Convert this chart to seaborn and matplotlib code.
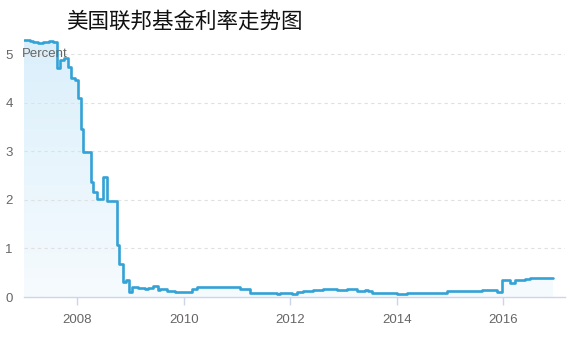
import numpy as np
import pandas as pd
import matplotlib
matplotlib.use("Agg")
import matplotlib.pyplot as plt
import matplotlib.dates as mdates
import seaborn as sns
from matplotlib.colors import LinearSegmentedColormap

title = "美国联邦基金利率走势图"
y_unit = "Percent"
dates = ["2007-01-01", "2007-02-10", "2007-03-03", "2007-04-05", "2007-05-10", "2007-06-20",
         "2007-07-17", "2007-08-12", "2007-09-04", "2007-10-01", "2007-10-29", "2007-11-18",
         "2007-12-16", "2008-01-07", "2008-01-26", "2008-02-11", "2008-04-02", "2008-04-20",
         "2008-05-13", "2008-06-24", "2008-07-21", "2008-09-28", "2008-10-16", "2008-11-12",
         "2008-12-01", "2008-12-23", "2009-01-13", "2009-02-21", "2009-04-10", "2009-04-30",
         "2009-06-03", "2009-07-08", "2009-07-21", "2009-09-08", "2009-11-01", "2010-01-29",
         "2010-02-26", "2010-04-01", "2010-07-19", "2010-09-06", "2010-12-04", "2011-01-21",
         "2011-03-31", "2011-06-07", "2011-07-31", "2011-10-01", "2011-10-22", "2012-01-12",
         "2012-02-15", "2012-03-28", "2012-06-05", "2012-08-13", "2012-11-17", "2013-01-24",
         "2013-04-03", "2013-05-27", "2013-06-17", "2013-07-14", "2014-01-01", "2014-03-11",
         "2014-12-10", "2015-08-08", "2015-11-18", "2015-12-22", "2016-02-16", "2016-03-21",
         "2016-05-29", "2016-07-02", "2016-12-07"]
rates = [5.30, 5.28, 5.26, 5.23, 5.25, 5.28,
         5.26, 4.71, 4.89, 4.92, 4.75, 4.51,
         4.47, 4.10, 3.46, 2.98, 2.38, 2.17,
         2.02, 2.47, 1.98, 1.07, 0.69, 0.30,
         0.35, 0.11, 0.21, 0.19, 0.16, 0.18,
         0.23, 0.15, 0.16, 0.13, 0.11, 0.10,
         0.17, 0.21, 0.20, 0.21, 0.20, 0.16,
         0.09, 0.08, 0.09, 0.07, 0.08, 0.06,
         0.10, 0.13, 0.14, 0.16, 0.14, 0.16,
         0.13, 0.14, 0.12, 0.08, 0.06, 0.09,
         0.12, 0.14, 0.11, 0.36, 0.28, 0.36,
         0.38, 0.40, 0.40]
y_ticks = [0, 1, 2, 3, 4, 5]
x_tick_years = ["2008", "2010", "2012", "2014", "2016"]

df = pd.DataFrame({"date": pd.to_datetime(dates), "rate": rates})

sns.set_style("white")
plt.rcParams["font.family"] = ["Liberation Sans", "DejaVu Sans"]

fig = plt.figure(figsize=(5.8, 3.5), dpi=100)
ax = fig.add_axes([24 / 580, 53 / 350, (565 - 24) / 580, (297 - 35) / 350])

line_color = "#33a2d6"
sns.lineplot(data=df, x="date", y="rate", ax=ax, drawstyle="steps-post",
             color=line_color, linewidth=1.9, zorder=3)

xmin = pd.Timestamp("2007-01-01")
xmax = pd.Timestamp("2017-02-26")
ymax = 5.4

poly = ax.fill_between(df["date"], df["rate"], 0, step="post", color="none", linewidth=0)
cmap = LinearSegmentedColormap.from_list("g", ["#f6fbfe", "#daeffb"])
grad = np.linspace(0, 1, 256).reshape(-1, 1)
im = ax.imshow(grad, extent=[mdates.date2num(xmin), mdates.date2num(xmax), 0, ymax],
               origin="lower", aspect="auto", cmap=cmap, zorder=1)
im.set_clip_path(poly.get_paths()[0], transform=ax.transData)

ax.set_xlim(xmin, xmax)
ax.set_ylim(0, ymax)

ax.set_yticks(y_ticks)
ax.set_yticklabels([str(v) for v in y_ticks])
ax.set_xticks(pd.to_datetime([y + "-01-01" for y in x_tick_years]))
ax.set_xticklabels(x_tick_years)

for v in y_ticks[1:]:
    ax.axhline(v, color="#e0e0e0", linewidth=0.8, linestyle=(0, (3, 3)), zorder=2)

for s in ["top", "right", "left"]:
    ax.spines[s].set_visible(False)
ax.spines["bottom"].set_color("#ccd6eb")
ax.spines["bottom"].set_linewidth(1.0)

ax.tick_params(axis="x", length=6, width=1, color="#ccd6eb", colors="#666666",
               labelsize=9.5, pad=6, direction="out", bottom=True)
ax.tick_params(axis="x", color="#ccd6eb")
ax.tick_params(axis="y", length=0, labelsize=9.5, labelcolor="#666666", pad=8)
ax.set_xlabel("")
ax.set_ylabel("")

ax.text(22 / 580, 1 - 54 / 350, y_unit, transform=fig.transFigure, fontsize=9.5,
        color="#666666", ha="left", va="center", zorder=5)

fig.text(66 / 580, 1 - 22 / 350, title, fontsize=15.5, color="#111111",
         family=["Noto Sans CJK SC", "DejaVu Sans"], ha="left", va="center")

fig.savefig("out.png", dpi=100, facecolor="white")
